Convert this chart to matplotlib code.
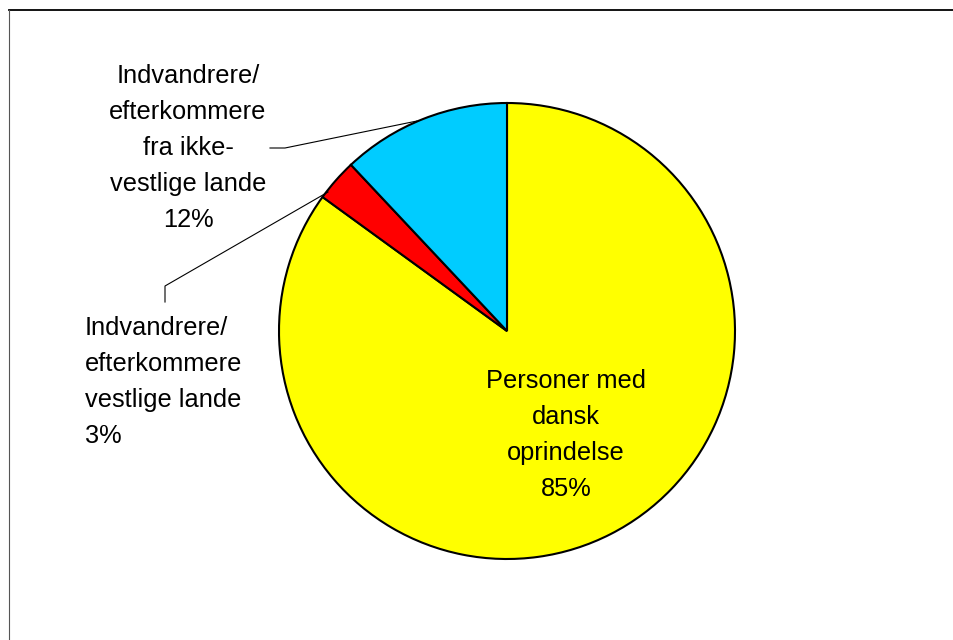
import matplotlib
matplotlib.use('Agg')
import matplotlib.pyplot as plt
from matplotlib.lines import Line2D

plt.rcParams['font.family'] = ['Liberation Sans', 'DejaVu Sans']

labels = ['Personer med\ndansk\noprindelse',
          'Indvandrere/\nefterkommere\nvestlige lande',
          'Indvandrere/\nefterkommere\nfra ikke-\nvestlige lande']
shares = [85, 3, 12]
colors = ['#FFFF00', '#FF0000', '#00CCFF']

W, H = 954, 640
cx, cy, r = 507, 331, 228

fig = plt.figure(figsize=(W / 100, H / 100), dpi=100)
ax = fig.add_axes([(cx - r) / W, (H - cy - r) / H, 2 * r / W, 2 * r / H])
ax.pie(shares, colors=colors, startangle=90, counterclock=False, radius=1,
       wedgeprops=dict(edgecolor='black', linewidth=1.5))
ax.set_xlim(-1, 1)
ax.set_ylim(-1, 1)
ax.set_aspect('auto')
ax.axis('off')


def px(x, y):
    # pixel position -> data coords of the pie axes
    return (x - cx) / r, (cy - y) / r


fs = 18.3
ls = 1.62
# inside label
tx, ty = px(566, 435)
ax.text(tx, ty, f'{labels[0]}\n{shares[0]}%', ha='center', va='center',
        fontsize=fs, linespacing=ls)
# western immigrants
tx, ty = px(85, 382)
ax.text(tx, ty, f'{labels[1]}\n{shares[1]}%', ha='left', va='center',
        fontsize=fs, linespacing=ls, multialignment='left')
# non-western immigrants
tx, ty = px(188, 148)
ax.text(tx, ty, f'{labels[2]}\n{shares[2]}%', ha='center', va='center',
        fontsize=fs, linespacing=ls)

# leader lines
for pts in ([(270, 148), (285, 148), (417, 121)],
            [(165, 302), (165, 286), (328, 192)]):
    xs, ys = zip(*[px(*p) for p in pts])
    ax.plot(xs, ys, color='black', linewidth=0.8, clip_on=False)

# chart area border (top and left only visible)
fig.add_artist(Line2D([9.5 / W, 1], [1 - 9.5 / H, 1 - 9.5 / H],
                      color='black', linewidth=1.3))
fig.add_artist(Line2D([9.5 / W, 9.5 / W], [0, 1 - 9.5 / H],
                      color='#555555', linewidth=0.8))

fig.savefig('out.png', dpi=100)
